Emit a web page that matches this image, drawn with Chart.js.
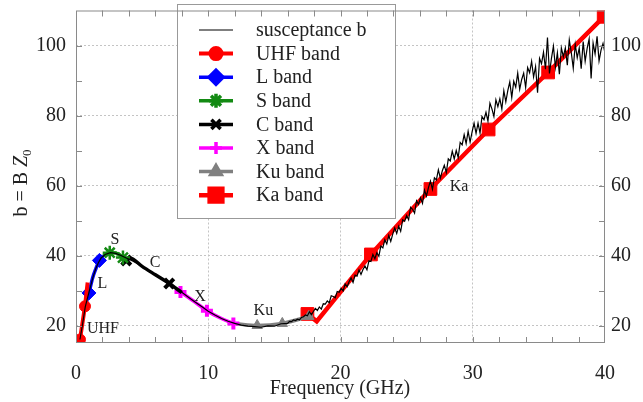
<!DOCTYPE html>
<html>
<head>
<meta charset="utf-8">
<title>susceptance</title>
<script src="https://cdn.jsdelivr.net/npm/chart.js@4.4.1/dist/chart.umd.min.js"></script>
<style>
  body { margin: 0; background: #fff; }
</style>
</head>
<body>
<canvas id="myChart" width="643" height="402"></canvas>
<script>
'use strict';

// susceptance b (thin black line)
const bFreq = [
  0.3, 0.5, 0.7, 0.9, 1.1, 1.3, 1.5, 1.7, 1.9, 2.2,
  2.6, 3.0, 3.4, 3.8, 4.2, 4.6, 5.0, 5.5, 6.0, 6.5,
  7.0, 7.5, 8.0, 8.5, 9.0, 9.5, 10.0, 10.5, 11.0, 11.5,
  12.0, 12.5, 13.0, 13.5, 14.0, 14.5, 15.0, 15.5,
  16.00, 16.15, 16.30, 16.45, 16.60, 16.75, 16.90, 17.05, 17.20, 17.35,
  17.50, 17.65, 17.80, 17.95, 18.10, 18.25, 18.40, 18.55, 18.70, 18.85,
  19.00, 19.15, 19.30, 19.45, 19.60, 19.75, 19.90, 20.05, 20.20, 20.35,
  20.50, 20.65, 20.80, 20.95, 21.10, 21.25, 21.40, 21.55, 21.70, 21.85,
  22.00, 22.15, 22.30, 22.45, 22.60, 22.75, 22.90, 23.05, 23.20, 23.35,
  23.50, 23.65, 23.80, 23.95, 24.10, 24.25, 24.40, 24.55, 24.70, 24.85,
  25.00, 25.15, 25.30, 25.45, 25.60, 25.75, 25.90, 26.05, 26.20, 26.35,
  26.50, 26.65, 26.80, 26.95, 27.10, 27.25, 27.40, 27.55, 27.70, 27.85,
  28.00, 28.15, 28.30, 28.45, 28.60, 28.75, 28.90, 29.05, 29.20, 29.35,
  29.50, 29.65, 29.80, 29.95, 30.10, 30.25, 30.40, 30.55, 30.70, 30.85,
  31.00, 31.15, 31.30, 31.45, 31.60, 31.75, 31.90, 32.05, 32.20, 32.35,
  32.50, 32.65, 32.80, 32.95, 33.10, 33.25, 33.40, 33.55, 33.70, 33.85,
  34.00, 34.15, 34.30, 34.45, 34.60, 34.75, 34.90, 35.05, 35.20, 35.35,
  35.50, 35.65, 35.80, 35.95, 36.10, 36.25, 36.40, 36.55, 36.70, 36.85,
  37.00, 37.15, 37.30, 37.45, 37.60, 37.75, 37.90, 38.05, 38.20, 38.35,
  38.50, 38.65, 38.80, 38.95, 39.10, 39.25, 39.40, 39.55, 39.70, 39.85,
  40.00
];
const bValue = [
  16.0, 20.5, 25.3, 28.3, 31.2, 34.0, 36.3, 38.0, 39.3, 40.3,
  40.8, 40.6, 40.0, 39.3, 38.6, 37.8, 36.9, 35.7, 34.5, 33.3,
  32.1, 30.8, 29.5, 28.1, 26.7, 25.4, 24.1, 23.0, 22.0, 21.2,
  20.6, 20.1, 19.8, 19.7, 19.5, 19.9, 19.8, 20.5,
  20.6, 21.2, 21.1, 21.6, 21.4, 21.8, 21.6, 22.3, 22.5, 23.0,
  22.8, 23.9, 23.1, 24.0, 24.9, 24.3, 25.3, 24.7, 26.2, 26.1,
  27.0, 26.5, 28.5, 28.3, 27.9, 29.7, 29.5, 30.6, 29.9, 31.9,
  31.1, 32.5, 33.6, 32.3, 34.4, 34.1, 35.9, 34.6, 36.0, 37.0,
  35.9, 38.5, 38.3, 40.3, 39.1, 40.8, 39.8, 42.7, 42.2, 44.5,
  43.3, 45.7, 44.0, 46.1, 47.9, 46.3, 48.4, 46.9, 50.2, 49.8,
  51.4, 50.2, 53.8, 53.2, 52.1, 55.6, 54.6, 56.5, 54.9, 58.7,
  57.0, 59.4, 61.3, 58.9, 62.2, 61.6, 64.5, 62.1, 64.2, 65.8,
  63.7, 67.6, 67.0, 69.8, 67.6, 70.0, 68.0, 72.3, 71.6, 74.5,
  72.0, 75.5, 72.4, 75.3, 77.8, 74.9, 77.8, 75.0, 79.7, 78.8,
  80.9, 78.4, 83.5, 81.9, 79.7, 84.5, 82.5, 84.8, 81.8, 87.1,
  83.9, 87.1, 89.6, 85.1, 89.8, 88.1, 92.1, 87.5, 90.3, 92.1,
  88.0, 93.7, 92.2, 95.5, 91.0, 94.0, 86.5, 96.3, 94.8, 98.1,
  93.2, 102.3, 92.0, 96.3, 99.8, 93.8, 97.9, 91.8, 99.3, 96.8,
  99.3, 94.4, 101.6, 98.0, 93.5, 100.3, 96.5, 99.3, 93.4, 101.1,
  95.5, 99.2, 101.9, 90.6, 100.7, 97.6, 102.6, 95.6, 98.7, 100.6,
  97.8
];

// frequency bands (thick coloured lines)
const uhfFreq = [0.3, 0.68, 0.88];
const uhfValue = [16.0, 25.5, 32.3];
const lFreq = [0.7, 0.98, 1.25, 1.5, 1.77, 2.05];
const lValue = [25.6, 29.3, 33.5, 36.2, 38.6, 40.0];
const sFreq = [2.05, 2.55, 3.0, 3.55, 3.85];
const sValue = [40.0, 40.8, 40.7, 39.4, 38.6];
const cFreq = [3.8, 4.1, 5.0, 6.0, 7.05, 8.0];
const cValue = [38.6, 39.2, 36.9, 34.5, 32.0, 29.4];
const xFreq = [7.9, 9.0, 9.9, 11.0, 11.9];
const xValue = [29.6, 26.7, 24.2, 22.0, 20.6];
const kuFreq = [12.1, 13.7, 15.6, 17.6, 17.9];
const kuValue = [20.5, 20.0, 20.6, 22.6, 23.0];
const kaFreq = [17.5, 18.2, 22.3, 26.8, 31.2, 35.7, 39.9];
const kaValue = [23.3, 21.2, 40.3, 59.0, 76.0, 92.3, 108.2];

// band names written on the plot
const bandNames = ['UHF', 'L', 'S', 'C', 'X', 'Ku', 'Ka'];
const bandNameFreq = [2.04, 1.99, 2.95, 5.98, 9.38, 14.17, 28.97];
const bandNameValue = [19.2, 32.0, 44.6, 38.0, 28.1, 24.3, 59.6];

const xTicks = [0, 10, 20, 30, 40];
const yTicks = [20, 40, 60, 80, 100];

const ctx = document.getElementById('myChart');
const serif = '"Liberation Serif", "DejaVu Serif", serif';

function pts(xs, ys) {
  return xs.map(function (v, i) {
    return { x: v, y: ys[i] };
  });
}

// radius only on the points that carry a marker
function marks(n, idx, r) {
  let out = [];
  for (let i = 0; i < n; i++) {
    out.push(idx.indexOf(i) >= 0 ? r : 0);
  }
  return out;
}

function band(label, xs, ys, color, style, idx, r, width, smooth) {
  let pbw = 1;
  if (style === 'crossRot' || style === 'cross') pbw = 4;
  if (style === 'star') pbw = 2.5;
  return {
    label: label,
    data: pts(xs, ys),
    showLine: true,
    borderColor: color,
    backgroundColor: color,
    borderWidth: width,
    pointStyle: style,
    pointRadius: marks(xs.length, idx, r),
    pointBorderWidth: pbw,
    pointBorderColor: color,
    pointBackgroundColor: color,
    cubicInterpolationMode: smooth ? 'monotone' : 'default',
    tension: 0
  };
}

let datasets = [
  {
    label: 'susceptance b',
    data: pts(bFreq, bValue),
    showLine: true,
    borderColor: '#000',
    borderWidth: 1.2,
    pointRadius: 0,
    tension: 0
  },
  band('UHF band', uhfFreq, uhfValue, '#ff0000', 'circle', [0, 1], 5.5, 4, false),
  band('L band', lFreq, lValue, '#0000ff', 'rectRot', [1, 4], 7, 3.5, true),
  band('S band', sFreq, sValue, '#138a13', 'star', [1, 3], 7, 3.5, true),
  band('C band', cFreq, cValue, '#000000', 'crossRot', [0, 4], 6.5, 3.5, true),
  band('X band', xFreq, xValue, '#ff00ff', 'cross', [0, 2, 4], 6, 3.5, true),
  band('Ku band', kuFreq, kuValue, '#808080', 'triangle', [1, 2, 3], 6, 3.5, true),
  band('Ka band', kaFreq, kaValue, '#ff0000', 'rect', [0, 2, 3, 4, 5, 6], 9, 4.5, false)
];

function drawMarker(g, ds, x, y) {
  let r = Math.max.apply(null, ds.pointRadius);
  Chart.helpers.drawPoint(g, {
    pointStyle: ds.pointStyle,
    radius: r,
    rotation: 0,
    borderWidth: ds.pointBorderWidth
  }, x, y);
}

const overlay = {
  id: 'overlay',
  afterDatasetsDraw(chart) {
    const g = chart.ctx;
    const sx = chart.scales.x;
    const sy = chart.scales.y;
    g.save();
    g.fillStyle = '#222';
    g.font = '16px ' + serif;
    g.textAlign = 'center';
    g.textBaseline = 'middle';
    for (let i = 0; i < bandNames.length; i++) {
      g.fillText(bandNames[i], sx.getPixelForValue(bandNameFreq[i]), sy.getPixelForValue(bandNameValue[i]));
    }
    g.restore();
  },
  afterDraw(chart) {
    const g = chart.ctx;
    const a = chart.chartArea;
    const sx = chart.scales.x;
    const sy = chart.scales.y;

    // legend box
    g.save();
    g.fillStyle = '#fff';
    g.fillRect(177, 4, 218, 214);
    g.strokeStyle = '#999';
    g.lineWidth = 1;
    g.strokeRect(177.5, 4.5, 218, 214);
    g.font = '20px ' + serif;
    g.textBaseline = 'middle';
    g.textAlign = 'left';
    chart.data.datasets.forEach(function (ds, i) {
      let y = 30 + i * 23.6;
      g.strokeStyle = ds.borderColor;
      g.lineWidth = ds.borderWidth;
      g.beginPath();
      g.moveTo(199, y);
      g.lineTo(233, y);
      g.stroke();
      if (ds.pointStyle) {
        g.fillStyle = ds.pointBackgroundColor;
        g.strokeStyle = ds.pointBorderColor;
        drawMarker(g, ds, 216, y);
      }
      g.fillStyle = '#222';
      g.fillText(ds.label, 256, y + 1);
    });
    g.restore();

    // frame with inward ticks
    g.save();
    g.strokeStyle = '#8a8a8a';
    g.lineWidth = 1;
    g.strokeRect(a.left + 0.5, a.top + 0.5, a.right - a.left - 1, a.bottom - a.top - 1);
    g.beginPath();
    for (let v = 2; v < 40; v += 2) {
      let px = Math.round(sx.getPixelForValue(v)) + 0.5;
      g.moveTo(px, a.bottom);
      g.lineTo(px, a.bottom - 6);
      g.moveTo(px, a.top);
      g.lineTo(px, a.top + 6);
    }
    for (let v = 20; v < 110; v += 10) {
      let py = Math.round(sy.getPixelForValue(v)) + 0.5;
      g.moveTo(a.left, py);
      g.lineTo(a.left + 6, py);
      g.moveTo(a.right, py);
      g.lineTo(a.right - 6, py);
    }
    g.stroke();

    // axis titles
    g.fillStyle = '#222';
    g.font = '20px ' + serif;
    g.textAlign = 'center';
    g.textBaseline = 'middle';
    g.fillText('Frequency (GHz)', 340, 389);

    g.translate(22, 183);
    g.rotate(-Math.PI / 2);
    g.textAlign = 'left';
    let p1 = 'b = B ';
    g.font = '20px ' + serif;
    let w1 = g.measureText(p1).width;
    g.font = 'italic 20px ' + serif;
    let w2 = g.measureText('Z').width;
    g.font = '13px ' + serif;
    let w3 = g.measureText('0').width;
    let x0 = -(w1 + w2 + w3) / 2;
    g.font = '20px ' + serif;
    g.fillText(p1, x0, 0);
    g.font = 'italic 20px ' + serif;
    g.fillText('Z', x0 + w1, 0);
    g.font = '13px ' + serif;
    g.fillText('0', x0 + w1 + w2, 6);
    g.restore();
  }
};

function gridColor(c) {
  return (c.tick && c.tick.value > c.scale.min && c.tick.value < c.scale.max) ? '#c4c4c4' : 'rgba(0,0,0,0)';
}

function fixY(w) {
  return function (s) {
    s.width = w;
    s.paddingTop = 0;
    s.paddingBottom = 0;
  };
}

const tickFont = { family: serif, size: 20 };

new Chart(ctx, {
  type: 'scatter',
  data: { datasets: datasets },
  plugins: [overlay],
  options: {
    responsive: false,
    animation: false,
    devicePixelRatio: 1,
    layout: { padding: { top: 7, left: 0, right: 0, bottom: 0 } },
    plugins: {
      legend: { display: false },
      tooltip: { enabled: false }
    },
    scales: {
      x: {
        type: 'linear',
        min: 0,
        max: 40,
        afterBuildTicks: function (s) { s.ticks = xTicks.map(function (v) { return { value: v }; }); },
        afterFit: function (s) { s.height = 59; s.paddingLeft = 0; s.paddingRight = 0; },
        ticks: { font: tickFont, color: '#222', padding: 19, maxRotation: 0 },
        grid: { color: gridColor, drawTicks: false, lineWidth: 1 },
        border: { display: false, dash: [2, 2] }
      },
      y: {
        type: 'linear',
        position: 'left',
        min: 15,
        max: 110,
        afterBuildTicks: function (s) { s.ticks = yTicks.map(function (v) { return { value: v }; }); },
        afterFit: fixY(76),
        ticks: { font: tickFont, color: '#222', padding: 10 },
        grid: { color: gridColor, drawTicks: false, lineWidth: 1 },
        border: { display: false, dash: [2, 2] }
      },
      y2: {
        type: 'linear',
        position: 'right',
        min: 15,
        max: 110,
        afterBuildTicks: function (s) { s.ticks = yTicks.map(function (v) { return { value: v }; }); },
        afterFit: fixY(38),
        ticks: { font: tickFont, color: '#222', padding: 6 },
        grid: { drawOnChartArea: false, drawTicks: false },
        border: { display: false }
      }
    }
  }
});
</script>
</body>
</html>
